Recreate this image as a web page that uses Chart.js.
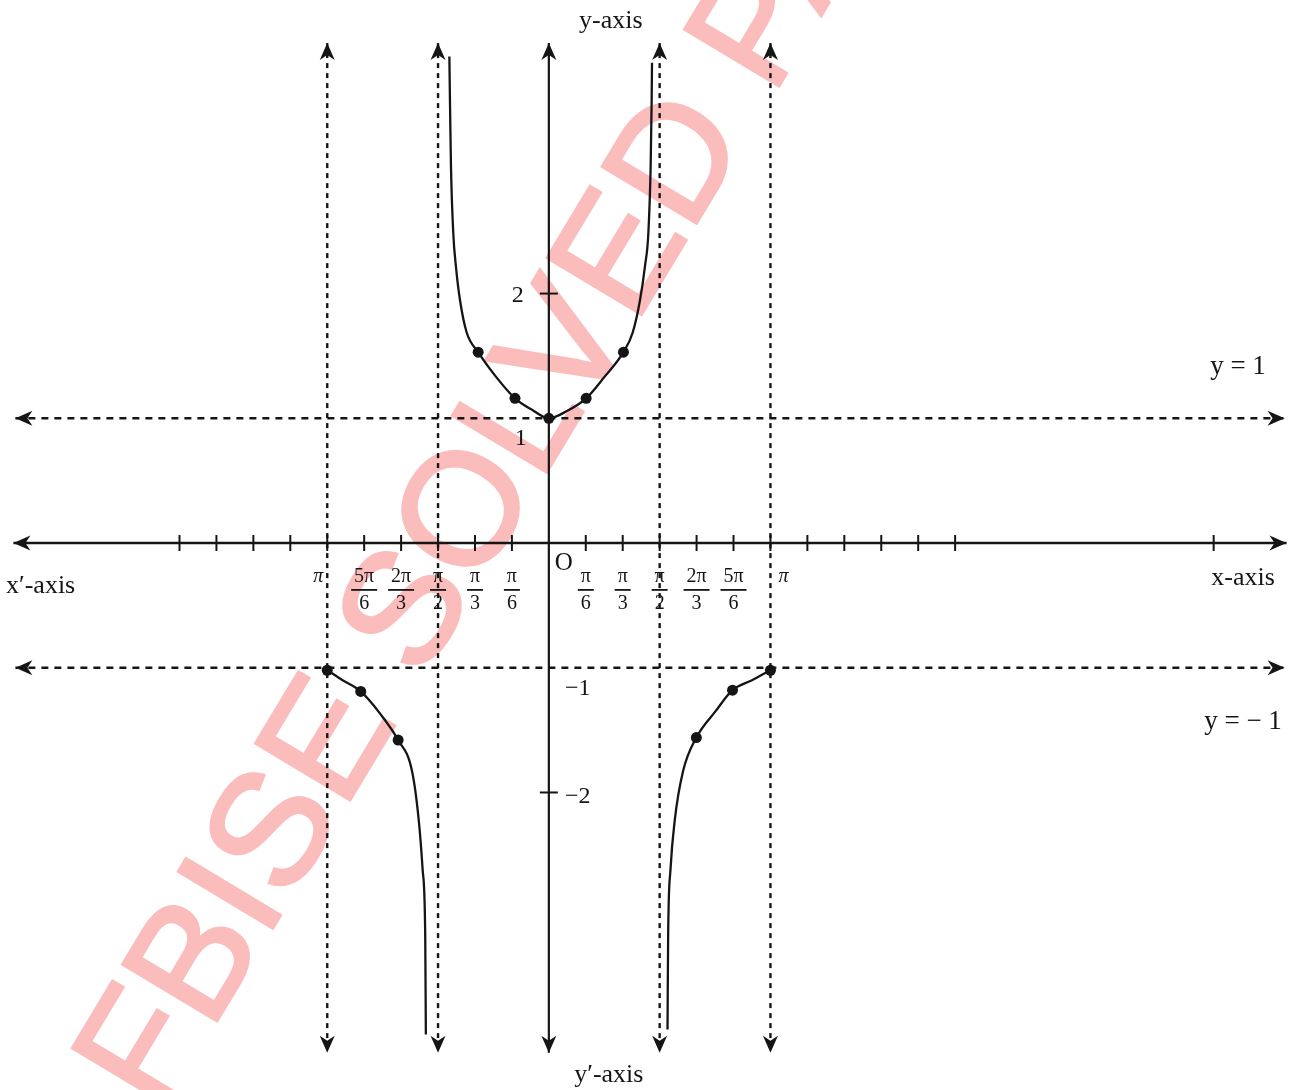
<!DOCTYPE html>
<html>
<head>
<meta charset="utf-8">
<script src="https://cdn.jsdelivr.net/npm/chart.js@4/dist/chart.umd.min.js"></script>
<style>
  html, body { margin: 0; padding: 0; background: #ffffff; }
  #wrap { width: 1299px; height: 1090px; }
</style>
</head>
<body>
<div id="wrap"><canvas id="c" width="1299" height="1090"></canvas></div>
<script>
// ---- Data (x in degrees, y = sec x) ----
const upperX = [-80.8, -80.3, -79.5, -77.6, -75.5, -72.2, -66.8, -57.4, -42.7, -27.5, -14, 0, 15, 30.3, 45, 60.6, 68.2, 74.1, 78.1, 80.8, 82.7, 83.5, 83.8];
const upperY = [3.90, 3.54, 3.02, 2.48, 2.22, 1.95, 1.69, 1.53, 1.33, 1.16, 1.07, 1.0, 1.06, 1.16, 1.33, 1.53, 1.69, 1.95, 2.22, 2.48, 3.02, 3.54, 3.85];

const lowerLeftX = [-180, -167.5, -152.8, -136.9, -122.4, -111.1, -105.7, -102.5, -100.4, -99.9];
const lowerLeftY = [-1.02, -1.10, -1.19, -1.37, -1.58, -1.83, -2.22, -2.62, -3.15, -3.94];

const lowerRightX = [96.4, 96.9, 98.8, 102.3, 109, 119.8, 135.3, 149.2, 165, 180];
const lowerRightY = [-3.90, -3.15, -2.62, -2.22, -1.83, -1.56, -1.35, -1.18, -1.10, -1.02];

const dotX = [-57.4, -27.5, 0, 30.3, 60.6, -180, -152.8, -122.4, 119.8, 149.2, 180];
const dotY = [1.53, 1.16, 1.0, 1.16, 1.53, -1.02, -1.19, -1.58, -1.56, -1.18, -1.02];

const asymptoteX = [-180, -90, 90, 180];
const guideY = [1, -1];

const xTickDeg = [-300, -270, -240, -210, -180, -150, -120, -90, -60, -30, 30, 60, 90, 120, 150, 180, 210, 240, 270, 300, 330, 540];
const fracDeg = [-150, -120, -90, -60, -30, 30, 60, 90, 120, 150];
const fracNum = ['5π', '2π', 'π', 'π', 'π', 'π', 'π', 'π', '2π', '5π'];
const fracDen = ['6', '3', '2', '3', '6', '6', '3', '2', '3', '6'];
const piDeg = [-180, 180];

const yTickVals = [2, -2];
const yLabelVals = [2, 1, -1, -2];
const yLabelText = ['2', '1', '−1', '−2'];

// plot extents
const X_MIN = -441.33, X_MAX = 604.85, Y_MIN = -4.3413, Y_MAX = 4.3095;
const AX_LEFT = -434.9, AX_RIGHT = 599.2, AX_TOP = 4.008, AX_BOTTOM = -4.087;
const GUIDE_LEFT = -433.3, GUIDE_RIGHT = 597.6;

const INK = '#151515';
const SERIF = '"Liberation Serif", "DejaVu Serif", serif';

function pts(xs, ys) { return xs.map((x, i) => ({ x: x, y: ys[i] })); }

const datasets = [];
datasets.push({ data: [{x: AX_LEFT, y: 0}, {x: AX_RIGHT, y: 0}], borderColor: INK, borderWidth: 2.5, pointRadius: 0 });
datasets.push({ data: [{x: 0, y: AX_TOP}, {x: 0, y: AX_BOTTOM}], borderColor: INK, borderWidth: 2.2, pointRadius: 0 });
asymptoteX.forEach(a => datasets.push({ data: [{x: a, y: AX_TOP}, {x: a, y: AX_BOTTOM}], borderColor: INK, borderWidth: 2.4, borderDash: [5, 5], pointRadius: 0 }));
guideY.forEach(g => datasets.push({ data: [{x: GUIDE_LEFT, y: g}, {x: GUIDE_RIGHT, y: g}], borderColor: INK, borderWidth: 2.4, borderDash: [7, 6], pointRadius: 0 }));
[pts(upperX, upperY), pts(lowerLeftX, lowerLeftY), pts(lowerRightX, lowerRightY)].forEach(d =>
  datasets.push({ data: d, borderColor: INK, borderWidth: 2.3, pointRadius: 0, cubicInterpolationMode: 'monotone' }));
datasets.push({ data: pts(dotX, dotY), showLine: false, pointRadius: 5.5, pointBackgroundColor: INK, pointBorderColor: INK, pointBorderWidth: 0 });

function arrow(ctx, x, y, dir) {
  const L = 17, W = 7.5, N = 5;
  const ang = { up: -Math.PI / 2, down: Math.PI / 2, left: Math.PI, right: 0 }[dir];
  ctx.save();
  ctx.translate(x, y);
  ctx.rotate(ang);
  ctx.beginPath();
  ctx.moveTo(0, 0);
  ctx.lineTo(-L, -W);
  ctx.lineTo(-L + N, 0);
  ctx.lineTo(-L, W);
  ctx.closePath();
  ctx.fillStyle = INK;
  ctx.fill();
  ctx.restore();
}

const overlay = {
  id: 'overlay',
  beforeDatasetsDraw(chart) {
    const ctx = chart.ctx;
    ctx.save();
    ctx.translate(160, 1116);
    ctx.rotate(-59 * Math.PI / 180);
    ctx.font = '160px "Liberation Sans", Arial, sans-serif';
    ctx.fillStyle = '#fbbcbc';
    ctx.strokeStyle = '#fbbcbc';
    ctx.lineWidth = 3;
    ctx.textBaseline = 'alphabetic';
    ctx.fillText('FBISE SOLVED PAPERS', 0, 0);
    ctx.strokeText('FBISE SOLVED PAPERS', 0, 0);
    ctx.restore();
  },
  afterDatasetsDraw(chart) {
    const ctx = chart.ctx;
    const xs = chart.scales.x, ys = chart.scales.y;
    const px = v => xs.getPixelForValue(v), py = v => ys.getPixelForValue(v);
    ctx.save();
    arrow(ctx, px(AX_LEFT), py(0), 'left');
    arrow(ctx, px(AX_RIGHT), py(0), 'right');
    arrow(ctx, px(0), py(AX_TOP), 'up');
    arrow(ctx, px(0), py(AX_BOTTOM), 'down');
    asymptoteX.forEach(a => { arrow(ctx, px(a), py(AX_TOP), 'up'); arrow(ctx, px(a), py(AX_BOTTOM), 'down'); });
    guideY.forEach(g => { arrow(ctx, px(GUIDE_LEFT), py(g), 'left'); arrow(ctx, px(GUIDE_RIGHT), py(g), 'right'); });

    ctx.strokeStyle = INK;
    ctx.lineWidth = 2;
    xTickDeg.forEach(d => {
      ctx.beginPath();
      ctx.moveTo(px(d), py(0) - 8);
      ctx.lineTo(px(d), py(0) + 8);
      ctx.stroke();
    });
    yTickVals.forEach(v => {
      ctx.beginPath();
      ctx.moveTo(px(0) - 9, py(v));
      ctx.lineTo(px(0) + 9, py(v));
      ctx.stroke();
    });

    ctx.fillStyle = INK;
    ctx.textAlign = 'center';
    ctx.textBaseline = 'middle';
    const baseY = py(0);
    fracDeg.forEach((d, i) => {
      const cx = px(d);
      ctx.font = '20px ' + SERIF;
      ctx.fillText(fracNum[i], cx, baseY + 34);
      ctx.fillText(fracDen[i], cx, baseY + 61);
      const w = fracNum[i].length > 1 ? 26 : 16;
      ctx.fillRect(cx - w / 2, baseY + 46, w, 1.8);
    });
    ctx.font = 'italic 20px ' + SERIF;
    ctx.fillText('π', px(piDeg[0]) - 9, baseY + 34);
    ctx.fillText('π', px(piDeg[1]) + 13, baseY + 34);

    ctx.font = '24px ' + SERIF;
    yLabelVals.forEach((v, i) => {
      if (v > 0) {
        ctx.fillText(yLabelText[i], px(0) - (v === 2 ? 31 : 28), py(v) + (v === 2 ? 2 : 20));
      } else {
        ctx.fillText(yLabelText[i], px(0) + 29, py(v) + (v === -1 ? 21 : 4));
      }
    });
    ctx.font = '25px ' + SERIF;
    ctx.fillText('O', px(0) + 15, py(0) + 20);

    ctx.font = '26px ' + SERIF;
    ctx.fillText('y-axis', px(0) + 62, 21);
    ctx.fillText('y′-axis', px(0) + 60, 1075);
    ctx.textAlign = 'left';
    ctx.fillText('x′-axis', 6, py(0) + 43);
    ctx.textAlign = 'center';
    ctx.fillText('x-axis', 1243, py(0) + 35);
    ctx.font = '27px ' + SERIF;
    ctx.fillText('y = 1', 1238, 367);
    ctx.fillText('y = − 1', 1243, 722);
    ctx.restore();
  }
};

new Chart(document.getElementById('c'), {
  type: 'line',
  data: { datasets: datasets },
  options: {
    responsive: false,
    animation: false,
    events: [],
    layout: { padding: 0 },
    plugins: { legend: { display: false }, tooltip: { enabled: false } },
    elements: { line: { tension: 0, fill: false } },
    scales: {
      x: { type: 'linear', min: X_MIN, max: X_MAX, display: false },
      y: { type: 'linear', min: Y_MIN, max: Y_MAX, display: false }
    }
  },
  plugins: [overlay]
});
</script>
</body>
</html>
